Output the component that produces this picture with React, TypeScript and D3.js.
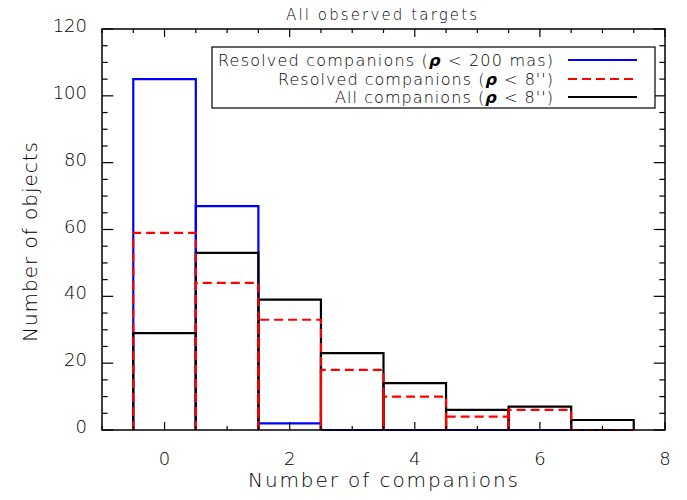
import React from "react";
import * as d3 from "d3";

const categories = [0, 1, 2, 3, 4, 5, 6, 7];
const resolved200mas = [105, 67, 2, 0, 0, 0, 0, 0];
const resolved8as = [59, 44, 33, 18, 10, 4, 6, 0];
const allCompanions = [29, 53, 39, 23, 14, 6, 7, 3];
const xTickValues = [0, 2, 4, 6, 8];
const yTickValues = [0, 20, 40, 60, 80, 100, 120];

const W = 687;
const H = 500;
const M = { left: 102, right: 665, top: 29, bottom: 430 };
const FONT = "'DejaVu Sans', 'Liberation Sans', sans-serif";

export default function App() {
  const x = d3.scaleLinear().domain([-1, 8]).range([M.left, M.right]);
  const y = d3.scaleLinear().domain([0, 120]).range([M.bottom, M.top]);

  const barPath = (c: number, v: number) => {
    const p = d3.path();
    p.moveTo(x(c - 0.5), y(0));
    p.lineTo(x(c - 0.5), y(v));
    p.lineTo(x(c + 0.5), y(v));
    p.lineTo(x(c + 0.5), y(0));
    return p.toString();
  };

  const xMinor = d3.range(-1, 8.001, 0.5);
  const yMinor = d3.range(0, 120.001, 5);
  const xMajorLen = 0.02 * (M.bottom - M.top);
  const yMajorLen = 0.02 * (M.right - M.left);

  const series = [
    { data: resolved200mas, color: "#0000ff", dash: undefined },
    { data: allCompanions, color: "#000000", dash: undefined },
    { data: resolved8as, color: "#ff0000", dash: "9 5" },
  ];

  const legend = [
    { pre: "Resolved companions (", post: " < 200 mas)", color: "#0000ff", dash: undefined, len: 335 },
    { pre: "Resolved companions (", post: " < 8'')", color: "#ff0000", dash: "9 5", len: 275 },
    { pre: "All companions (", post: " < 8'')", color: "#000000", dash: undefined, len: 218 },
  ];
  const legendY = [60, 79, 97];

  return (
    <svg
      width={W}
      height={H}
      style={{ position: "absolute", left: 0, top: 0, background: "#fff" }}
      fontFamily={FONT}
      fontWeight={200}
    >
      <rect x={0} y={0} width={W} height={H} fill="#fff" />
      {series.map((s, si) => (
        <g key={si}>
          {categories.map((c, i) => (
            <path
              key={i}
              d={barPath(c, s.data[i])}
              fill="none"
              stroke={s.color}
              strokeWidth={2.2}
              strokeDasharray={s.dash}
            />
          ))}
        </g>
      ))}
      <rect
        x={M.left}
        y={M.top}
        width={M.right - M.left}
        height={M.bottom - M.top}
        fill="none"
        stroke="#000"
        strokeWidth={1.5}
      />
      {xMinor.map((v, i) => {
        const major = Math.abs(v - Math.round(v / 2) * 2) < 1e-6;
        const len = major ? xMajorLen : xMajorLen / 2;
        return (
          <g key={"xt" + i} stroke="#000" strokeWidth={1.2}>
            <line x1={x(v)} x2={x(v)} y1={M.bottom} y2={M.bottom - len} />
            <line x1={x(v)} x2={x(v)} y1={M.top} y2={M.top + len} />
          </g>
        );
      })}
      {yMinor.map((v, i) => {
        const major = v % 20 === 0;
        const len = major ? yMajorLen : yMajorLen / 2;
        return (
          <g key={"yt" + i} stroke="#000" strokeWidth={1.2}>
            <line x1={M.left} x2={M.left + len} y1={y(v)} y2={y(v)} />
            <line x1={M.right} x2={M.right - len} y1={y(v)} y2={y(v)} />
          </g>
        );
      })}
      {xTickValues.map((v) => (
        <text key={"xl" + v} x={x(v)} y={465} textAnchor="middle" fontSize={18} fill="#000">
          {v}
        </text>
      ))}
      {yTickValues.map((v) => (
        <text key={"yl" + v} x={87} y={y(v) + 3} textAnchor="end" fontSize={18} fill="#000">
          {v}
        </text>
      ))}
      <text x={286} y={20} fontSize={15} fill="#000" textLength={191} lengthAdjust="spacing">
        All observed targets
      </text>
      <text x={248} y={487} fontSize={20} fill="#000" textLength={270} lengthAdjust="spacing">
        Number of companions
      </text>
      <text
        transform={`translate(37,342) rotate(-90)`}
        fontSize={20}
        fill="#000"
        textLength={200}
        lengthAdjust="spacing"
      >
        Number of objects
      </text>
      <rect x={212} y={47} width={443} height={61} fill="#fff" stroke="#000" strokeWidth={1.2} />
      {legend.map((l, i) => (
        <g key={"lg" + i}>
          <text
            x={553 - l.len}
            y={legendY[i] + 6}
            fontSize={16}
            fill="#000"
            textLength={l.len}
            lengthAdjust="spacing"
          >
            {l.pre}
            <tspan fontWeight="bold" fontStyle="italic">ρ</tspan>
            {l.post}
          </text>
          <line
            x1={568}
            x2={637}
            y1={legendY[i]}
            y2={legendY[i]}
            stroke={l.color}
            strokeWidth={2.2}
            strokeDasharray={l.dash}
          />
        </g>
      ))}
    </svg>
  );
}
